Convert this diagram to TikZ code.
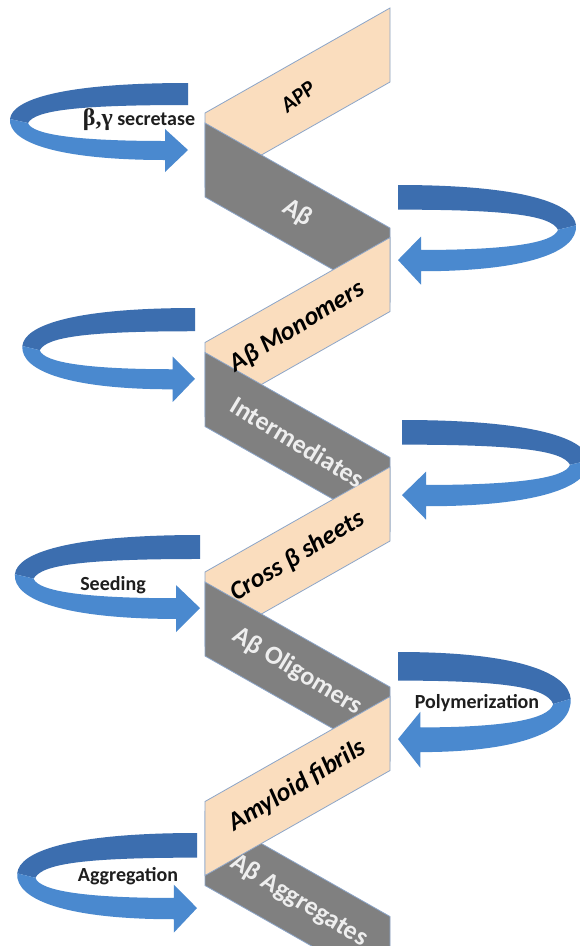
\documentclass[tikz,border=0pt]{standalone}
\usepackage{fontspec}
\setmainfont{Carlito}
\newfontfamily\grkfont{Liberation Serif}
\definecolor{tanfill}{RGB}{250,221,190}
\definecolor{bandgray}{RGB}{128,128,128}
\definecolor{edgeblue}{RGB}{140,165,200}
\definecolor{arrback}{RGB}{60,110,175}
\definecolor{arrfront}{RGB}{74,137,207}
\definecolor{graytext}{RGB}{238,238,238}
\definecolor{labeldark}{RGB}{30,30,30}
\tikzset{
  tanband/.style={fill=tanfill, draw=edgeblue, line width=0.8pt},
  grayband/.style={fill=bandgray, draw=edgeblue, line width=0.8pt},
  tanlabel/.style={font=\fontsize{26}{28}\selectfont\bfseries\itshape, text=black, rotate=31, inner sep=0pt},
  graylabel/.style={font=\fontsize{26}{28}\selectfont\bfseries, text=graytext, rotate=-31, inner sep=0pt},
  arrlabel/.style={font=\fontsize{20}{22}\selectfont\bfseries, text=labeldark, inner sep=0pt},
}
% tail x, tail y, xscale, yscale
\newcommand{\loopArrow}[4]{%
  \begin{scope}[shift={(#1,#2)}, xscale=#3, yscale=#4]
    \fill[arrback] (0,0) .. controls (-128,0) and (-176,17) .. (-178,36)
      -- (-160,40) .. controls (-153,27) and (-108,22) .. (0,22) -- cycle;
    \fill[arrfront] (-178,36) .. controls (-180,60) and (-128,77) .. (-23,77)
      -- (-23,89) -- (0,67) -- (-23,46) -- (-23,58)
      .. controls (-108,58) and (-156,52) .. (-160,40) -- cycle;
  \end{scope}}
\newcommand{\tanBand}[1]{% top-left y
  \draw[tanband] (205,#1) -- (390,#1-105) -- (390,#1-31) -- (205,#1+74) -- cycle;}
\newcommand{\grayBand}[1]{% top-left y
  \draw[grayband] (205,#1) -- (390,#1+105) -- (390,#1+179) -- (205,#1+74) -- cycle;}
\begin{document}
\begin{tikzpicture}[x=1pt, y=-1pt]
\useasboundingbox (0,0) rectangle (580,946);
\clip (0,0) rectangle (580,946);
\fill[white] (0,0) rectangle (580,946);

% arrows
\loopArrow{188}{83}{1.0}{1.0}
\loopArrow{195}{308}{0.97}{1.056}
\loopArrow{200}{535}{1.04}{1.09}
\loopArrow{197}{833}{1.01}{1.12}
\loopArrow{398}{185}{-1.0}{1.12}
\loopArrow{402}{420}{-1.05}{1.12}
\loopArrow{398}{652}{-0.97}{1.30}

% bands
\tanBand{113}
\grayBand{123}
\tanBand{342.5}
\grayBand{352.5}
\tanBand{572}
\grayBand{582}
\grayBand{811.5}
\tanBand{801.5}

% band labels
\node[tanlabel, font=\fontsize{22}{24}\selectfont\bfseries\itshape, rotate=6] (app) at (298,97) {APP};
\node[graylabel] (ab) at (297.5,213) {Aβ};
\node[tanlabel] (mono) at (297.5,327) {Aβ Monomers};
\node[graylabel] (inter) at (297.5,442) {Intermediates};
\node[tanlabel] (cross) at (297.5,556.5) {Cross β sheets};
\node[graylabel] (olig) at (297.5,671.5) {Aβ Oligomers};
\node[tanlabel] (fib) at (297.5,786) {Amyloid fibrils};
\node[graylabel] (aggr) at (299,901) {Aβ Aggregates};

% arrow labels
\node[arrlabel] (sec) at (139,120) {{\grkfont\fontsize{24}{26}\selectfont β,γ} secretase};
\node[arrlabel] (seed) at (113,585) {Seeding};
\node[arrlabel] (poly) at (477,703) {Polymerization};
\node[arrlabel] (agg) at (128,876) {Aggregation};
\end{tikzpicture}
\end{document}
